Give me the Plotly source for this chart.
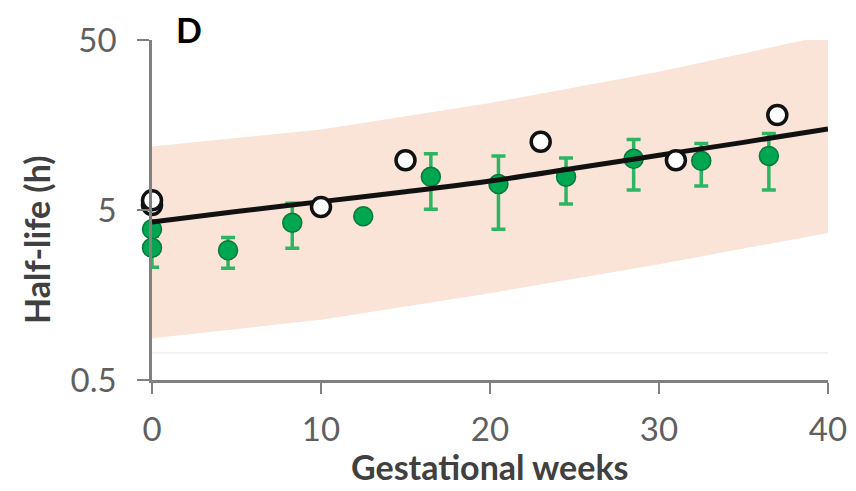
import math
import plotly.graph_objects as go

# ---- data ----
band_weeks = [0, 10, 20, 30, 40]
band_upper = [11.8, 14.9, 21.3, 32.5, 53.5]
band_lower = [0.88, 1.13, 1.62, 2.4, 3.66]

fit_weeks = [0, 5, 10, 15, 20, 25, 30, 35, 40]
fit_halflife = [4.25, 4.9, 5.6, 6.4, 7.4, 8.8, 10.5, 12.5, 15.0]

obs_weeks = [0, 0, 4.5, 8.3, 12.5, 16.5, 20.5, 24.5, 28.5, 32.5, 36.5]
obs_mean = [3.85, 3.0, 2.9, 4.2, 4.6, 7.85, 7.1, 7.85, 10.0, 9.75, 10.4]
obs_high = [4.2, 3.5, 3.45, 5.47, 4.6, 10.7, 10.4, 10.1, 13.0, 12.3, 14.1]
obs_low = [3.5, 2.3, 2.27, 2.98, 4.6, 5.05, 3.85, 5.42, 6.56, 6.92, 6.56]

lit_weeks = [0, 0, 10, 15, 23, 31, 37]
lit_halflife = [5.35, 5.7, 5.2, 9.8, 12.6, 9.8, 18.1]

faint_weeks = [0, 40]
faint_level = [0.72, 0.72]

x_ticks = [0, 10, 20, 30, 40]
y_ticks = [0.5, 5, 50]
y_ticktext = ["0.5", "5", "50"]

FONT = "Lato"
GREEN = "#00a650"

fig = go.Figure()

# prediction band
fig.add_trace(go.Scatter(
    x=band_weeks + band_weeks[::-1],
    y=band_upper + band_lower[::-1],
    fill="toself", fillcolor="#fae4d7", line=dict(width=0),
    mode="lines", hoverinfo="skip", showlegend=False))

fig.add_trace(go.Scatter(
    x=faint_weeks, y=faint_level, mode="lines",
    line=dict(color="#f3f3f3", width=2), showlegend=False, hoverinfo="skip"))

# observed data (mean ± SD)
fig.add_trace(go.Scatter(
    x=obs_weeks, y=obs_mean, mode="markers",
    marker=dict(size=19, color=GREEN, line=dict(color="#08793c", width=1.5)),
    error_y=dict(type="data", symmetric=False,
                 array=[h - m for h, m in zip(obs_high, obs_mean)],
                 arrayminus=[m - l for m, l in zip(obs_mean, obs_low)],
                 color="#2db562", thickness=3.5, width=7),
    cliponaxis=False, showlegend=False))

# model line
fig.add_trace(go.Scatter(
    x=fit_weeks, y=fit_halflife, mode="lines", line_shape="spline",
    line=dict(color="#111111", width=5), showlegend=False))

# literature points
fig.add_trace(go.Scatter(
    x=lit_weeks, y=lit_halflife, mode="markers",
    marker=dict(size=19, color="white", line=dict(color="#111111", width=3.5)),
    cliponaxis=False, showlegend=False))

fig.update_xaxes(
    range=[0, 40], tickvals=x_ticks, ticks="outside", ticklen=11, tickwidth=2,
    tickcolor="#808080", showline=True, linecolor="#808080", linewidth=2.5,
    showgrid=False, zeroline=False, ticklabelstandoff=8,
    tickfont=dict(family=FONT, size=33, color="#5f5f5f"))
fig.update_yaxes(
    type="log", range=[math.log10(0.5), math.log10(50)],
    tickvals=y_ticks, ticktext=y_ticktext, ticks="outside", ticklen=12,
    tickwidth=2, tickcolor="#808080", showline=True, linecolor="#808080",
    linewidth=2.5, showgrid=False, zeroline=False, ticklabelstandoff=14,
    tickfont=dict(family=FONT, size=33, color="#5f5f5f"))

fig.add_annotation(text="<b>Gestational weeks</b>", xref="paper", yref="paper",
                   x=0.5, y=-0.253, xanchor="center", yanchor="middle",
                   showarrow=False,
                   font=dict(family=FONT, size=34, color="#404040"))
fig.add_annotation(text="<b>Half-life (h)</b>", textangle=-90, xref="paper",
                   yref="paper", x=-0.170, y=0.412, xanchor="center",
                   yanchor="middle", showarrow=False,
                   font=dict(family=FONT, size=34, color="#404040"))
fig.add_annotation(text="<b>D</b>", xref="paper", yref="paper", x=0.0547,
                   y=1.032, xanchor="center", yanchor="middle",
                   showarrow=False,
                   font=dict(family=FONT, size=34, color="#000000"))

fig.update_layout(
    width=848, height=483, margin=dict(l=144, r=28, t=32, b=111, autoexpand=False),
    plot_bgcolor="white", paper_bgcolor="white")

fig.write_html("out.html")
